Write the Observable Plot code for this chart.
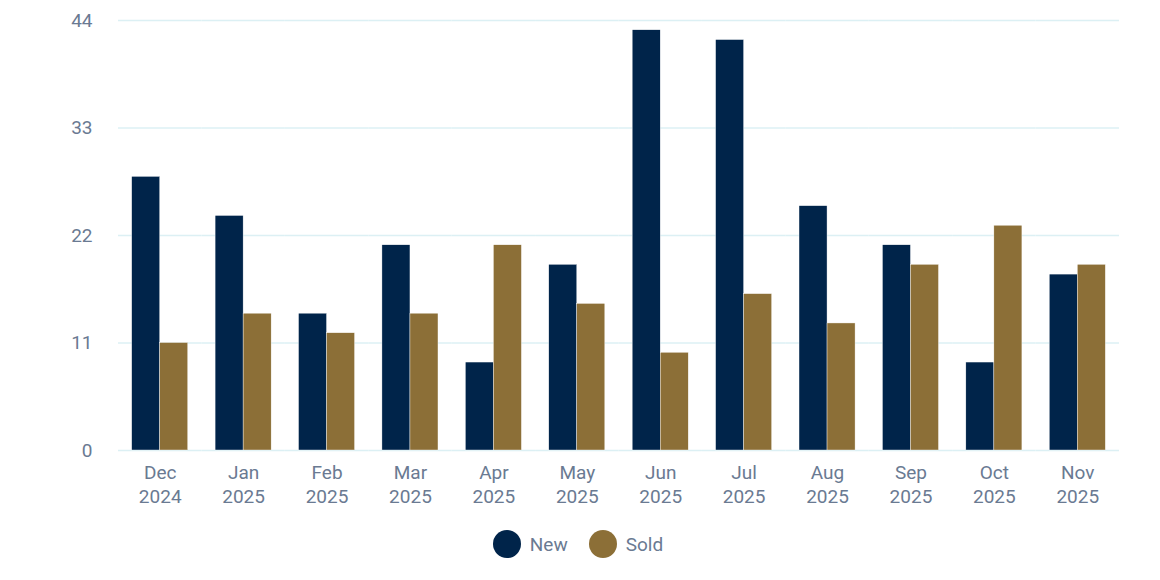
<!DOCTYPE html>
<html>
<head>
<meta charset="utf-8">
<script src="https://cdn.jsdelivr.net/npm/d3@7"></script>
<script src="https://cdn.jsdelivr.net/npm/@observablehq/plot@0.6"></script>
<style>
  html, body { margin: 0; padding: 0; background: #ffffff; }
  body { width: 1160px; height: 580px; font-family: Roboto, "Noto Sans", sans-serif; }
  #legend { display: flex; justify-content: center; align-items: center; gap: 21px; margin-top: 10px; padding-right: 4px; }
  .item { display: flex; align-items: center; gap: 9px; font-size: 19px; color: #6a7a92; }
  .dot { width: 28px; height: 28px; border-radius: 50%; }
</style>
</head>
<body>
<div id="chart"></div>
<div id="legend"></div>
<script>
const months = ["Dec 2024","Jan 2025","Feb 2025","Mar 2025","Apr 2025","May 2025","Jun 2025","Jul 2025","Aug 2025","Sep 2025","Oct 2025","Nov 2025"];
const newValues  = [28, 24, 14, 21, 9, 19, 43, 42, 25, 21, 9, 18];
const soldValues = [11, 14, 12, 14, 21, 15, 10, 16, 13, 19, 23, 19];
const seriesNames = ["New", "Sold"];
const seriesColors = ["#00244a", "#8c6f37"];
const yTicks = [0, 11, 22, 33, 44];

const data = [];
months.forEach((m, i) => {
  data.push({month: m, series: "New", value: newValues[i]});
  data.push({month: m, series: "Sold", value: soldValues[i]});
});

const tickColor = "#6a7a92";
const plot = Plot.plot({
  width: 1160,
  height: 520,
  marginLeft: 118,
  marginRight: 41,
  marginTop: 20,
  marginBottom: 70,
  style: {fontFamily: "Roboto, sans-serif", fontSize: "19px", color: tickColor, background: "#ffffff"},
  fx: {domain: months, paddingInner: 0, paddingOuter: 0, label: null, round: false},
  x: {domain: seriesNames, paddingInner: 0, paddingOuter: 0.488, axis: null, round: false},
  y: {domain: [0, 44], label: null},
  color: {domain: seriesNames, range: seriesColors},
  marks: [
    Plot.gridY(yTicks, {stroke: "#dcf0f4", strokeOpacity: 1, strokeWidth: 1.5}),
    Plot.axisY(yTicks, {tickSize: 0, tickPadding: 26, label: null, fill: tickColor, fontSize: 19}),
    Plot.axisFx({anchor: "bottom", tickSize: 0, tickPadding: 12, label: null, fill: tickColor, fontSize: 19,
      tickFormat: d => d.replace(" ", "\n"), lineHeight: 1.25}),
    Plot.barY(data, {fx: "month", x: "series", y: "value", fill: "series", stroke: "#ffffff", strokeWidth: 0.4})
  ]
});
document.getElementById("chart").appendChild(plot);

const legend = document.getElementById("legend");
seriesNames.forEach((s, i) => {
  const item = document.createElement("div");
  item.className = "item";
  const dot = document.createElement("div");
  dot.className = "dot";
  dot.style.background = seriesColors[i];
  const lab = document.createElement("span");
  lab.textContent = s;
  item.appendChild(dot);
  item.appendChild(lab);
  legend.appendChild(item);
});
</script>
</body>
</html>
